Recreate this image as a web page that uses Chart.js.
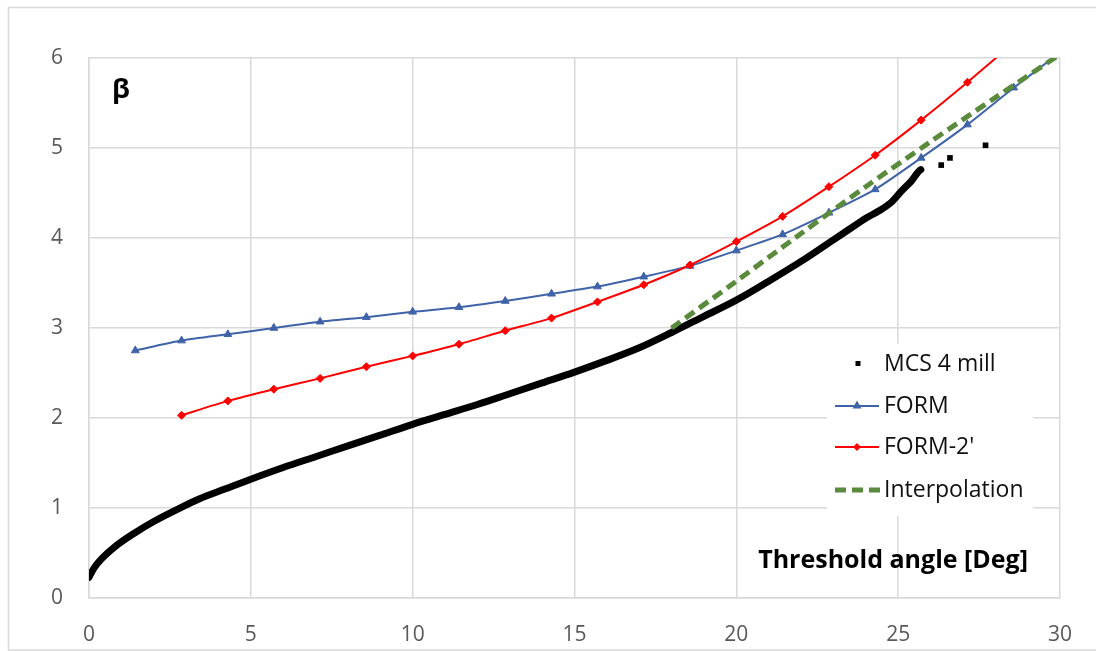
<!DOCTYPE html>
<html>
<head>
<meta charset="utf-8">
<script src="https://cdn.jsdelivr.net/npm/chart.js@4.4.1/dist/chart.umd.min.js"></script>
<style>
  html, body { margin: 0; padding: 0; background: #fff; }
  #wrap { width: 1096px; height: 651px; }
</style>
</head>
<body>
<div id="wrap"><canvas id="betaChart" width="1096" height="651"></canvas></div>
<script>
// values
const xTicks = [0, 5, 10, 15, 20, 25, 30];
const yTicks = [0, 1, 2, 3, 4, 5, 6];

const mcsX = [0, 0.15, 0.4, 0.8, 1.4, 2.0, 2.7, 3.4, 4.2, 5.0, 6.0, 7.0, 8.0, 9.0, 10.0,
  11.0, 12.0, 13.0, 14.0, 15.0, 16.0, 17.0, 18.0, 19.0, 20.0, 21.0, 22.0, 23.0, 23.5, 24.0, 24.4,
  24.8, 25.1, 25.4, 25.7, 26.33, 26.6, 27.7];
const mcsBeta = [0.23, 0.33, 0.44, 0.57, 0.72, 0.85, 0.98, 1.10, 1.21, 1.32, 1.45, 1.57, 1.69, 1.81, 1.93,
  2.04, 2.15, 2.27, 2.39, 2.51, 2.64, 2.78, 2.95, 3.13, 3.31, 3.52, 3.74, 3.98, 4.10, 4.22, 4.30,
  4.40, 4.52, 4.63, 4.76, 4.81, 4.89, 5.03];

const formX = [1.43, 2.86, 4.29, 5.71, 7.14, 8.57, 10.0, 11.43, 12.86, 14.29, 15.71, 17.14, 18.57,
  20.0, 21.43, 22.86, 24.29, 25.71, 27.14, 28.57, 30.0];
const formBeta = [2.75, 2.86, 2.93, 3.0, 3.07, 3.12, 3.18, 3.23, 3.30, 3.38, 3.46, 3.57, 3.69,
  3.86, 4.04, 4.28, 4.54, 4.89, 5.26, 5.67, 6.06];

const form2X = [2.86, 4.29, 5.71, 7.14, 8.57, 10.0, 11.43, 12.86, 14.29, 15.71, 17.14, 18.57,
  20.0, 21.43, 22.86, 24.29, 25.71, 27.14, 28.57];
const form2Beta = [2.03, 2.19, 2.32, 2.44, 2.57, 2.69, 2.82, 2.97, 3.11, 3.29, 3.48, 3.70,
  3.96, 4.24, 4.57, 4.92, 5.31, 5.73, 6.17];

const interpX = [18, 20, 22, 24, 26, 28, 30];
const interpBeta = [3.0, 3.52, 4.05, 4.57, 5.07, 5.56, 6.04];

const FONT = "'Open Sans', 'Liberation Sans', sans-serif";
const GRID = '#d9d9d9';
const BLUE = '#3f63a8';
const RED = '#ff0000';
const GREEN = '#5a8a3c';

function toPoints(xs, ys) {
    return xs.map((x, i) => ({ x: x, y: ys[i] }));
}

// light frame round the whole chart
const framePlugin = {
    id: 'frame',
    beforeDraw(chart) {
        const ctx = chart.ctx;
        ctx.save();
        ctx.fillStyle = '#fff';
        ctx.fillRect(0, 0, chart.width, chart.height);
        ctx.strokeStyle = GRID;
        ctx.lineWidth = 1.5;
        ctx.strokeRect(8.5, 7.5, 1100, 642.5);
        ctx.restore();
    }
};

// Excel style legend + axis labels placed inside the plot
const labelsPlugin = {
    id: 'labels',
    afterDraw(chart) {
        const ctx = chart.ctx;
        ctx.save();

        // beta label
        ctx.fillStyle = '#000';
        ctx.font = "bold 27px " + FONT;
        ctx.textBaseline = 'middle';
        ctx.textAlign = 'left';
        ctx.fillText('\u03b2', 112, 90);

        // x axis title
        ctx.font = "bold 25px " + FONT;
        ctx.textAlign = 'right';
        ctx.fillText('Threshold angle [Deg]', 1028, 561);

        // legend box
        ctx.fillStyle = '#fff';
        ctx.fillRect(827, 344, 206, 172);

        const lx0 = 835, lx1 = 879, tx = 884;
        ctx.font = "23px " + FONT;
        ctx.textAlign = 'left';

        // MCS
        ctx.fillStyle = '#000';
        ctx.fillRect(855.5, 361, 5, 5);
        ctx.fillStyle = '#111';
        ctx.fillText('MCS 4 mill', tx, 364);

        // FORM
        ctx.strokeStyle = BLUE;
        ctx.lineWidth = 2;
        ctx.beginPath(); ctx.moveTo(lx0, 406); ctx.lineTo(lx1, 406); ctx.stroke();
        ctx.fillStyle = BLUE;
        ctx.beginPath();
        ctx.moveTo(857, 400.5); ctx.lineTo(861.5, 408.5); ctx.lineTo(852.5, 408.5); ctx.closePath(); ctx.fill();
        ctx.fillStyle = '#111';
        ctx.fillText('FORM', tx, 406);

        // FORM-2'
        ctx.strokeStyle = RED;
        ctx.beginPath(); ctx.moveTo(lx0, 447); ctx.lineTo(lx1, 447); ctx.stroke();
        ctx.fillStyle = RED;
        ctx.beginPath();
        ctx.moveTo(857, 443); ctx.lineTo(861, 447); ctx.lineTo(857, 451); ctx.lineTo(853, 447); ctx.closePath(); ctx.fill();
        ctx.fillStyle = '#111';
        ctx.fillText("FORM-2'", tx, 447);

        // Interpolation
        ctx.strokeStyle = GREEN;
        ctx.lineWidth = 5;
        ctx.setLineDash([11, 6]);
        ctx.beginPath(); ctx.moveTo(lx0, 490); ctx.lineTo(lx1 + 2, 490); ctx.stroke();
        ctx.setLineDash([]);
        ctx.fillStyle = '#111';
        ctx.fillText('Interpolation', tx, 490);

        ctx.restore();
    }
};

const ctx = document.getElementById('betaChart').getContext('2d');

new Chart(ctx, {
    type: 'line',
    data: {
        datasets: [
            {
                label: 'MCS 4 mill',
                data: toPoints(mcsX, mcsBeta),
                borderColor: '#000',
                backgroundColor: '#000',
                borderWidth: 7,
                borderCapStyle: 'round',
                cubicInterpolationMode: 'monotone',
                pointStyle: 'rect',
                pointRadius: c => (c.raw && c.raw.x > 26 ? 4 : 0),
                pointBorderWidth: 0,
                segment: {
                    borderColor: c => (c.p0.parsed.x >= 25.7 ? 'transparent' : undefined)
                },
                order: 3
            },
            {
                label: 'FORM',
                data: toPoints(formX, formBeta),
                borderColor: BLUE,
                backgroundColor: BLUE,
                borderWidth: 2,
                pointStyle: 'triangle',
                pointRadius: 4.5,
                pointBorderWidth: 1,
                tension: 0.2,
                order: 2
            },
            {
                label: "FORM-2'",
                data: toPoints(form2X, form2Beta),
                borderColor: RED,
                backgroundColor: RED,
                borderWidth: 2,
                pointStyle: 'rectRot',
                pointRadius: 4,
                pointBorderWidth: 1,
                tension: 0.2,
                order: 1
            },
            {
                label: 'Interpolation',
                data: toPoints(interpX, interpBeta),
                borderColor: GREEN,
                borderWidth: 5,
                borderDash: [11, 6],
                pointRadius: 0,
                tension: 0.3,
                order: 0
            }
        ]
    },
    options: {
        responsive: false,
        animation: false,
        devicePixelRatio: 1,
        layout: { padding: { left: 0, right: 30, top: 58, bottom: 0 } },
        plugins: {
            legend: { display: false },
            tooltip: { enabled: false }
        },
        scales: {
            x: {
                type: 'linear',
                min: 0,
                max: 30,
                afterBuildTicks: s => { s.ticks = xTicks.map(v => ({ value: v })); },
                afterFit: s => { s.height = 53; },
                ticks: { color: '#595959', font: { family: FONT, size: 21 }, padding: 24 },
                grid: { color: GRID, lineWidth: 1.5, drawTicks: false },
                border: { color: GRID, width: 1.5 }
            },
            y: {
                min: 0,
                max: 6,
                afterBuildTicks: s => { s.ticks = yTicks.map(v => ({ value: v })); },
                afterFit: s => { s.width = 89; },
                ticks: { color: '#595959', font: { family: FONT, size: 21 }, padding: 26 },
                grid: { color: GRID, lineWidth: 1.5, drawTicks: false },
                border: { color: GRID, width: 1.5 }
            }
        }
    },
    plugins: [framePlugin, labelsPlugin]
});
</script>
</body>
</html>
